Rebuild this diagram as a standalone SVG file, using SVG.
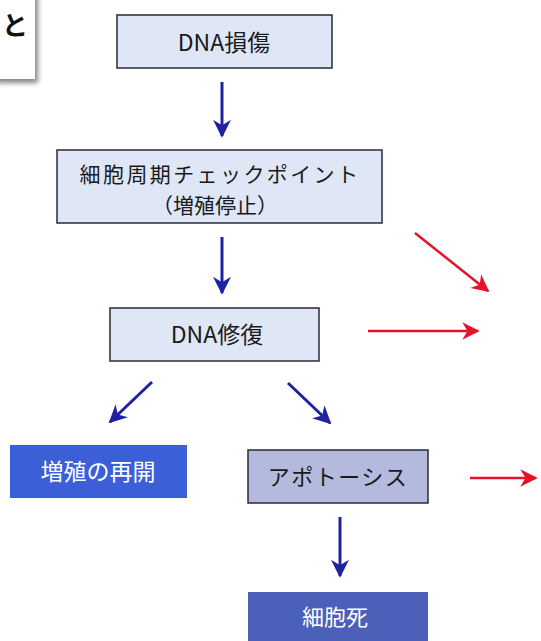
<svg xmlns="http://www.w3.org/2000/svg" width="541" height="641" viewBox="0 0 541 641">
<style>
.box{stroke:#2a2a3a;stroke-width:1.5}
.light{fill:#dfe6f6}
.t{font-family:"Noto Sans CJK JP","Noto Sans",sans-serif;font-size:23px;fill:#1a1a1a;text-anchor:middle}
.w{fill:#ffffff}
.blue{stroke:#1e22a0;stroke-width:3;fill:none}
.red{stroke:#e3132c;stroke-width:2.5;fill:none}
</style>
<defs>
<marker id="ab" viewBox="0 0 10 10" refX="9" refY="5" markerWidth="6" markerHeight="6" markerUnits="strokeWidth" orient="auto"><path d="M0,0 L10,5 L0,10 L3,5 Z" fill="#1e22a0"/></marker>
<marker id="ar" viewBox="0 0 10 10" refX="9" refY="5" markerWidth="8" markerHeight="7" markerUnits="strokeWidth" orient="auto"><path d="M0,0 L10,5 L0,10 L3,5 Z" fill="#e3132c"/></marker>
<filter id="sh" x="-20%" y="-20%" width="150%" height="150%"><feGaussianBlur stdDeviation="2.5"/></filter>
</defs>
<rect width="541" height="641" fill="#ffffff"/>
<g id="corner">
<rect x="-5" y="-5" width="43" height="88" fill="#888" filter="url(#sh)"/>
<rect x="-5" y="-5" width="40" height="84" fill="#ffffff"/>
<text x="15" y="35" style="font-family:'Noto Sans CJK JP',sans-serif;font-size:26px;font-weight:bold;fill:#111" text-anchor="middle">と</text>
</g>
<g id="n_dna_damage">
<rect class="box light" x="117" y="15" width="215" height="53"/>
<text class="t" x="224" y="51">DNA損傷</text>
</g>
<g id="n_checkpoint">
<rect class="box light" x="57" y="150" width="325" height="73"/>
<text class="t" x="220" y="182" style="font-size:21px;letter-spacing:2.4px">細胞周期チェックポイント</text>
<text class="t" x="215" y="213" style="font-size:21px">（増殖停止）</text>
</g>
<g id="n_repair">
<rect class="box light" x="110" y="308" width="209" height="53"/>
<text class="t" x="217" y="343">DNA修復</text>
</g>
<g id="n_resume">
<rect x="10" y="445" width="177" height="53" fill="#3c5fd8"/>
<text class="t w" x="98" y="480">増殖の再開</text>
</g>
<g id="n_apoptosis">
<rect class="box" x="248" y="450" width="180" height="53" fill="#b4badd"/>
<text class="t" x="338" y="485" style="font-size:22px;letter-spacing:1.5px">アポトーシス</text>
</g>
<g id="n_death">
<rect x="248" y="592" width="180" height="52" fill="#4b60b9"/>
<text class="t w" x="335" y="625" style="font-size:22px">細胞死</text>
</g>
<g id="connectors">
<line class="blue" x1="222" y1="82" x2="222" y2="136" marker-end="url(#ab)"/>
<line class="blue" x1="222" y1="237" x2="222" y2="293" marker-end="url(#ab)"/>
<line class="blue" x1="152" y1="382" x2="110" y2="422" marker-end="url(#ab)"/>
<line class="blue" x1="288" y1="383" x2="330" y2="423" marker-end="url(#ab)"/>
<line class="blue" x1="340" y1="517" x2="340" y2="576" marker-end="url(#ab)"/>
<line class="red" x1="415" y1="233" x2="488" y2="291" marker-end="url(#ar)"/>
<line class="red" x1="368" y1="331" x2="478" y2="331" marker-end="url(#ar)"/>
<line class="red" x1="470" y1="478" x2="536" y2="478" marker-end="url(#ar)"/>
</g>
</svg>
